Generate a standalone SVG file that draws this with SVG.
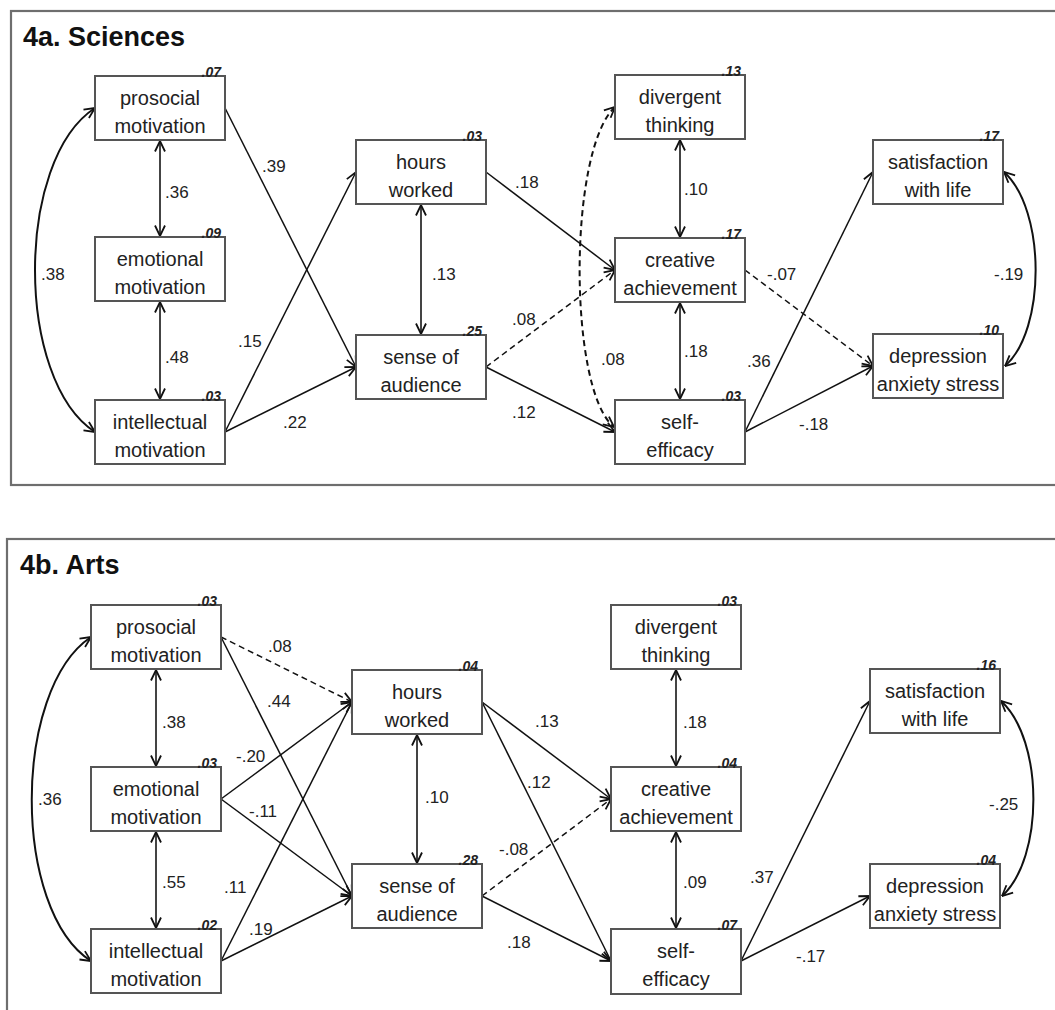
<svg xmlns="http://www.w3.org/2000/svg" width="1055" height="1010" viewBox="0 0 1055 1010">
<defs>
<marker id="ah" viewBox="0 0 12 12" refX="11.5" refY="6" markerWidth="12" markerHeight="12" markerUnits="userSpaceOnUse" orient="auto-start-reverse">
<path d="M1,1 L11.5,6 L1,11" fill="none" stroke="#111" stroke-width="1.8" stroke-dasharray="none"/>
</marker>
</defs>
<style>
.frame{fill:none;stroke:#6e6e6e;stroke-width:2.2}
.box{fill:#fff;stroke:#555;stroke-width:2}
.lbl{font-family:"Liberation Sans",Arial,sans-serif;font-size:20px;fill:#222;text-anchor:middle}
.r2{font-family:"Liberation Sans",Arial,sans-serif;font-size:14px;font-weight:bold;font-style:italic;fill:#222;text-anchor:end}
.coef{font-family:"Liberation Sans",Arial,sans-serif;font-size:17px;fill:#222}
.title{font-family:"Liberation Sans",Arial,sans-serif;font-size:27px;font-weight:bold;fill:#111}
.ln{fill:none;stroke:#111;stroke-width:1.5;marker-end:url(#ah)}
.dl{fill:none;stroke:#111;stroke-width:1.5;stroke-dasharray:6,4;marker-end:url(#ah)}
.cv{fill:none;stroke:#444;stroke-width:2;marker-start:url(#ah);marker-end:url(#ah)}
.cc{fill:none;stroke:#111;stroke-width:2;marker-start:url(#ah);marker-end:url(#ah)}
.cd{fill:none;stroke:#111;stroke-width:2;stroke-dasharray:6,4;marker-start:url(#ah);marker-end:url(#ah)}
</style>
<rect width="1055" height="1010" fill="#fff"/>
<rect class="frame" x="11" y="11" width="1070" height="474"/>
<rect class="frame" x="7" y="539" width="1080" height="500"/>
<text class="title" x="23" y="46">4a. Sciences</text>
<text class="title" x="20" y="574">4b. Arts</text>

<g id="connectors">
<!-- top panel -->
<path class="cv" d="M160,141 L160,236"/>
<path class="cv" d="M160,302 L160,399"/>
<path class="cc" d="M95,108 C15,160 15,380 95,432"/>
<path class="ln" d="M225,108 L356,367"/>
<path class="ln" d="M225,432 L356,172"/>
<path class="ln" d="M225,432 L356,367"/>
<path class="cv" d="M421,205 L421,334"/>
<path class="ln" d="M486,172 L615,270"/>
<path class="dl" d="M486,367 L615,270"/>
<path class="ln" d="M486,367 L615,432"/>
<path class="cd" d="M615,107 C568,150 568,390 614,427"/>
<path class="cv" d="M680,140 L680,237"/>
<path class="cv" d="M680,303 L680,399"/>
<path class="dl" d="M745,270 L873,366"/>
<path class="ln" d="M745,432 L873,172"/>
<path class="ln" d="M745,432 L873,366"/>
<path class="cc" d="M1004,172 C1046,210 1046,330 1005,366"/>
<!-- bottom panel -->
<path class="cv" d="M156,670 L156,766"/>
<path class="cv" d="M156,832 L156,928"/>
<path class="cc" d="M91,637 C12,690 12,910 91,961"/>
<path class="dl" d="M221,637 L352,702"/>
<path class="ln" d="M221,637 L352,896"/>
<path class="ln" d="M221,799 L352,702"/>
<path class="ln" d="M221,799 L352,896"/>
<path class="ln" d="M221,961 L352,702"/>
<path class="ln" d="M221,961 L352,896"/>
<path class="cv" d="M417,735 L417,863"/>
<path class="ln" d="M482,702 L611,799"/>
<path class="ln" d="M482,702 L611,961"/>
<path class="dl" d="M482,896 L611,799"/>
<path class="ln" d="M482,896 L611,961"/>
<path class="cv" d="M676,670 L676,766"/>
<path class="cv" d="M676,832 L676,928"/>
<path class="ln" d="M741,961 L870,701"/>
<path class="ln" d="M741,961 L870,896"/>
<path class="cc" d="M1001,701 C1044,740 1044,858 1002,896"/>
</g>

<g id="coefficients">
<text class="coef" x="165" y="198">.36</text>
<text class="coef" x="165" y="363">.48</text>
<text class="coef" x="41" y="280">.38</text>
<text class="coef" x="262" y="172">.39</text>
<text class="coef" x="238" y="347">.15</text>
<text class="coef" x="283" y="428">.22</text>
<text class="coef" x="432" y="280">.13</text>
<text class="coef" x="515" y="188">.18</text>
<text class="coef" x="512" y="325">.08</text>
<text class="coef" x="512" y="418">.12</text>
<text class="coef" x="601" y="365">.08</text>
<text class="coef" x="684" y="195">.10</text>
<text class="coef" x="684" y="357">.18</text>
<text class="coef" x="767" y="280">-.07</text>
<text class="coef" x="747" y="367">.36</text>
<text class="coef" x="799" y="430">-.18</text>
<text class="coef" x="994" y="280">-.19</text>

<text class="coef" x="162" y="728">.38</text>
<text class="coef" x="162" y="888">.55</text>
<text class="coef" x="38" y="805">.36</text>
<text class="coef" x="268" y="652">.08</text>
<text class="coef" x="267" y="707">.44</text>
<text class="coef" x="236" y="762">-.20</text>
<text class="coef" x="249" y="817">-.11</text>
<text class="coef" x="224" y="893">.11</text>
<text class="coef" x="249" y="935">.19</text>
<text class="coef" x="425" y="803">.10</text>
<text class="coef" x="535" y="727">.13</text>
<text class="coef" x="527" y="788">.12</text>
<text class="coef" x="499" y="855">-.08</text>
<text class="coef" x="507" y="948">.18</text>
<text class="coef" x="683" y="728">.18</text>
<text class="coef" x="683" y="888">.09</text>
<text class="coef" x="750" y="883">.37</text>
<text class="coef" x="796" y="962">-.17</text>
<text class="coef" x="989" y="810">-.25</text>
</g>

<!-- top nodes -->
<g id="a-prosocial" transform="translate(95,76)"><rect class="box" width="130" height="64"/><text class="lbl" x="65" y="29">prosocial</text><text class="lbl" x="65" y="57">motivation</text><text class="r2" x="126" y="1">.07</text></g>
<g id="a-emotional" transform="translate(95,237)"><rect class="box" width="130" height="64"/><text class="lbl" x="65" y="29">emotional</text><text class="lbl" x="65" y="57">motivation</text><text class="r2" x="126" y="1">.09</text></g>
<g id="a-intellectual" transform="translate(95,400)"><rect class="box" width="130" height="64"/><text class="lbl" x="65" y="29">intellectual</text><text class="lbl" x="65" y="57">motivation</text><text class="r2" x="126" y="1">.03</text></g>
<g id="a-hours" transform="translate(356,140)"><rect class="box" width="130" height="64"/><text class="lbl" x="65" y="29">hours</text><text class="lbl" x="65" y="57">worked</text><text class="r2" x="126" y="1">.03</text></g>
<g id="a-sense" transform="translate(356,335)"><rect class="box" width="130" height="64"/><text class="lbl" x="65" y="29">sense of</text><text class="lbl" x="65" y="57">audience</text><text class="r2" x="126" y="1">.25</text></g>
<g id="a-divergent" transform="translate(615,75)"><rect class="box" width="130" height="64"/><text class="lbl" x="65" y="29">divergent</text><text class="lbl" x="65" y="57">thinking</text><text class="r2" x="126" y="1">.13</text></g>
<g id="a-creative" transform="translate(615,238)"><rect class="box" width="130" height="64"/><text class="lbl" x="65" y="29">creative</text><text class="lbl" x="65" y="57">achievement</text><text class="r2" x="126" y="1">.17</text></g>
<g id="a-selfefficacy" transform="translate(615,400)"><rect class="box" width="130" height="64"/><text class="lbl" x="65" y="29">self-</text><text class="lbl" x="65" y="57">efficacy</text><text class="r2" x="126" y="1">.03</text></g>
<g id="a-satisfaction" transform="translate(873,140)"><rect class="box" width="130" height="64"/><text class="lbl" x="65" y="29">satisfaction</text><text class="lbl" x="65" y="57">with life</text><text class="r2" x="126" y="1">.17</text></g>
<g id="a-depression" transform="translate(873,334)"><rect class="box" width="130" height="64"/><text class="lbl" x="65" y="29">depression</text><text class="lbl" x="65" y="57">anxiety stress</text><text class="r2" x="126" y="1">.10</text></g>

<!-- bottom nodes -->
<g id="b-prosocial" transform="translate(91,605)"><rect class="box" width="130" height="64"/><text class="lbl" x="65" y="29">prosocial</text><text class="lbl" x="65" y="57">motivation</text><text class="r2" x="126" y="1">.03</text></g>
<g id="b-emotional" transform="translate(91,767)"><rect class="box" width="130" height="64"/><text class="lbl" x="65" y="29">emotional</text><text class="lbl" x="65" y="57">motivation</text><text class="r2" x="126" y="1">.03</text></g>
<g id="b-intellectual" transform="translate(91,929)"><rect class="box" width="130" height="64"/><text class="lbl" x="65" y="29">intellectual</text><text class="lbl" x="65" y="57">motivation</text><text class="r2" x="126" y="1">.02</text></g>
<g id="b-hours" transform="translate(352,670)"><rect class="box" width="130" height="64"/><text class="lbl" x="65" y="29">hours</text><text class="lbl" x="65" y="57">worked</text><text class="r2" x="126" y="1">.04</text></g>
<g id="b-sense" transform="translate(352,864)"><rect class="box" width="130" height="64"/><text class="lbl" x="65" y="29">sense of</text><text class="lbl" x="65" y="57">audience</text><text class="r2" x="126" y="1">.28</text></g>
<g id="b-divergent" transform="translate(611,605)"><rect class="box" width="130" height="64"/><text class="lbl" x="65" y="29">divergent</text><text class="lbl" x="65" y="57">thinking</text><text class="r2" x="126" y="1">.03</text></g>
<g id="b-creative" transform="translate(611,767)"><rect class="box" width="130" height="64"/><text class="lbl" x="65" y="29">creative</text><text class="lbl" x="65" y="57">achievement</text><text class="r2" x="126" y="1">.04</text></g>
<g id="b-selfefficacy" transform="translate(611,929)"><rect class="box" width="130" height="65"/><text class="lbl" x="65" y="29">self-</text><text class="lbl" x="65" y="57">efficacy</text><text class="r2" x="126" y="1">.07</text></g>
<g id="b-satisfaction" transform="translate(870,669)"><rect class="box" width="130" height="64"/><text class="lbl" x="65" y="29">satisfaction</text><text class="lbl" x="65" y="57">with life</text><text class="r2" x="126" y="1">.16</text></g>
<g id="b-depression" transform="translate(870,864)"><rect class="box" width="130" height="64"/><text class="lbl" x="65" y="29">depression</text><text class="lbl" x="65" y="57">anxiety stress</text><text class="r2" x="126" y="1">.04</text></g>
</svg>
